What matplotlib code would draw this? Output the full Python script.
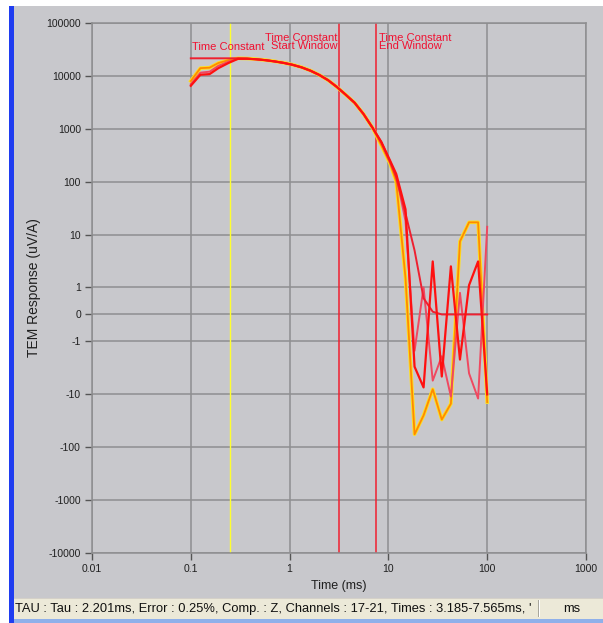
import matplotlib
matplotlib.use("Agg")
import matplotlib.pyplot as plt
import matplotlib.patheffects as pe
from matplotlib.patches import Rectangle
from matplotlib.transforms import blended_transform_factory

# ---------------- data ----------------
times = [0.1, 0.125, 0.155, 0.19, 0.24, 0.3, 0.37, 0.46, 0.57, 0.7, 0.87, 1.07,
         1.32, 1.63, 2.0, 2.45, 3.0, 3.7, 4.55, 5.6, 6.9, 8.5, 10.4, 12.0, 14.9,
         18.4, 22.7, 28.1, 34.7, 42.9, 53.0, 65.5, 80.9, 100.0]

resp_orange = [8000, 14000, 14300, 17500, 19800, 21500, 21300, 20700, 19900, 18900,
               17700, 16300, 14600, 12600, 10400, 8300, 6200, 4400, 3100, 1900, 1050,
               480, 220, 100, 1.5, -57, -25, -8, -30, -15, 7.4, 17, 17, -14]
resp_red1 = [6500, 10500, 10800, 14000, 17500, 21000, 21100, 20600, 19800, 18800,
             17600, 16200, 14500, 12500, 10400, 8300, 6200, 4400, 3100, 1900, 1050,
             560, 250, 140, 30, -3, -7.4, 3.1, -4.6, 2.5, -2.2, 1.1, 3.1, -10]
resp_red2 = [7000, 11500, 12000, 15500, 18500, 21000, 21100, 20600, 19800, 18800,
             17600, 16200, 14500, 12500, 10400, 8300, 6200, 4400, 3100, 1900, 1050,
             540, 230, 130, 18, -1.5, 1.0, -5.5, -1.9, -11, 0.8, -4, -12, 14]
resp_red3 = [21500, 21500, 21500, 21500, 21500, 21500, 21200, 20600, 19800, 18800,
             17600, 16200, 14500, 12500, 10400, 8300, 6200, 4400, 3100, 1900, 1050,
             550, 240, 120, 25, 5, 0.6, 0.1, 0, 0, 0, 0, 0, 0]

tau_peak = 0.25
window_start = 3.185
window_end = 7.565

xticks = [0.01, 0.1, 1, 10, 100, 1000]
xtick_labels = ["0.01", "0.1", "1", "10", "100", "1000"]
yticks = [100000, 10000, 1000, 100, 10, 1, 0, -1, -10, -100, -1000, -10000]
ytick_labels = ["100000", "10000", "1000", "100", "10", "1", "0", "-1", "-10",
                "-100", "-1000", "-10000"]

status_text = ("TAU : Tau : 2.201ms, Error : 0.25%, Comp. : Z, Channels : 17-21, "
               "Times : 3.185-7.565ms, '")

# ---------------- figure ----------------
W, H = 603, 623
BG = "#c8c8cc"
GRID = "#8e8e90"
plt.rcParams["font.family"] = ["Liberation Sans", "DejaVu Sans"]

fig = plt.figure(figsize=(W / 100, H / 100), dpi=100)
fig.patch.set_facecolor(BG)


def px_rect(x0, y0, x1, y1, color, z=0):
    fig.patches.append(Rectangle((x0 / W, 1 - y1 / H), (x1 - x0) / W, (y1 - y0) / H,
                                 transform=fig.transFigure, facecolor=color,
                                 edgecolor="none", zorder=z))


# window chrome
px_rect(0, 0, W, 6, "#ffffff")
px_rect(0, 0, 9, H, "#ffffff")
px_rect(9, 6, 14, H, "#1f3df0")
px_rect(14, 598, W, 619, "#ece9d8")
px_rect(14, 598, W, 599, "#d4d0c8")
px_rect(14, 619, W, H, "#8fb0ea")
px_rect(538, 600, 539, 617, "#a8a69c")
px_rect(539, 600, 540, 617, "#ffffff")
fig.text(15 / W, 1 - 609 / H, status_text, fontsize=9.3, color="#101010",
         ha="left", va="center")
fig.text(572 / W, 1 - 609 / H, "ms", fontsize=9.3, color="#101010",
         ha="center", va="center")

ax = fig.add_axes([92 / W, 1 - 553 / H, (586 - 92) / W, (553 - 23) / H])
ax.set_facecolor(BG)
ax.set_xscale("log")
ax.set_yscale("symlog", linthresh=1, linscale=0.46)
ax.set_xlim(0.01, 1000)
ax.set_ylim(-10000, 100000)

ax.set_xticks(xticks)
ax.set_xticklabels(xtick_labels)
ax.set_yticks(yticks)
ax.set_yticklabels(ytick_labels)
ax.minorticks_off()
ax.tick_params(axis="both", labelsize=7.5, colors="#555555", labelcolor="#202020",
               length=5, width=1, pad=3)
ax.grid(True, color=GRID, linewidth=1.1)
for s in ax.spines.values():
    s.set_color(GRID)
    s.set_linewidth(1.1)

ax.set_xlabel("Time (ms)", fontsize=9, color="#202020", labelpad=4)
ax.set_ylabel("TEM Response (uV/A)", fontsize=10, color="#202020", labelpad=4)

# vertical markers
ax.axvline(tau_peak, color="#ffff30", linewidth=1.0, zorder=2)
ax.axvline(window_start, color="#f02030", linewidth=1.1, zorder=2)
ax.axvline(window_end, color="#f02030", linewidth=1.1, zorder=2)

# curves
ax.plot(times, resp_orange, color="#ff8a00", linewidth=1.3, zorder=3,
        path_effects=[pe.Stroke(linewidth=2.6, foreground="#ffe020"), pe.Normal()])
ax.plot(times, resp_red2, color="#f04860", linewidth=1.4, zorder=4)
ax.plot(times, resp_red3, color="#ee2030", linewidth=1.4, zorder=4)
ax.plot(times, resp_red1, color="#ff1010", linewidth=1.6, zorder=5)

# labels
tr = blended_transform_factory(ax.transData, ax.transAxes)
lab_kw = dict(fontsize=8, color="#f01030", transform=tr, zorder=6, linespacing=0.8)
ax.text(0.102, 0.955, "Time Constant", ha="left", va="center", **lab_kw)
ax.text(window_start * 0.96, 0.964, "Time Constant\nStart Window", ha="right",
        va="center", **lab_kw)
ax.text(window_end * 1.05, 0.964, "Time Constant\nEnd Window", ha="left",
        va="center", **lab_kw)

fig.savefig("out.png", dpi=100, facecolor=fig.get_facecolor())
